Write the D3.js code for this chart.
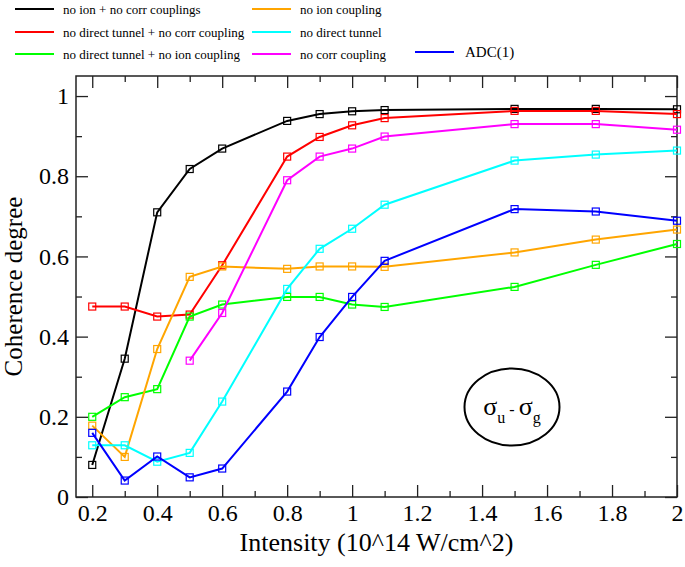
<!DOCTYPE html>
<html>
<head>
<meta charset="utf-8">
<script src="https://cdn.jsdelivr.net/npm/d3@7"></script>
<style>
  body { margin: 0; background: #fff; }
  svg text { font-family: "Liberation Serif", "DejaVu Serif", serif !important; }
</style>
</head>
<body>
<div id="chart"></div>
<script>
// intensities (10^14 W/cm^2)
const intensity = [0.2, 0.3, 0.4, 0.5, 0.6, 0.8, 0.9, 1.0, 1.1, 1.5, 1.75, 2.0];

const noIonNoCorr      = [0.08, 0.345, 0.71, 0.818, 0.869, 0.938, 0.955, 0.962, 0.965, 0.968, 0.968, 0.967];
const noTunnelNoCorr   = [0.475, 0.475, 0.45, 0.455, 0.578, 0.849, 0.898, 0.927, 0.945, 0.963, 0.963, 0.955];
const noTunnelNoIon    = [0.2, 0.249, 0.269, 0.45, 0.48, 0.499, 0.499, 0.48, 0.474, 0.524, 0.579, 0.631];
const noIon            = [0.178, 0.1, 0.369, 0.549, 0.575, 0.569, 0.575, 0.575, 0.574, 0.61, 0.642, 0.667];
const noTunnel         = [0.129, 0.129, 0.088, 0.11, 0.238, 0.519, 0.619, 0.669, 0.729, 0.839, 0.854, 0.864];
const noCorr           = [null, null, null, 0.34, 0.459, 0.79, 0.849, 0.869, 0.899, 0.93, 0.93, 0.916];
const adc1             = [0.16, 0.041, 0.101, 0.049, 0.071, 0.263, 0.399, 0.499, 0.589, 0.718, 0.712, 0.689];

const seriesNames = ["no ion + no corr couplings", "no direct tunnel + no corr coupling",
  "no direct tunnel + no ion coupling", "no ion coupling", "no direct tunnel",
  "no corr coupling", "ADC(1)"];
const seriesValues = [noIonNoCorr, noTunnelNoCorr, noTunnelNoIon, noIon, noTunnel, noCorr, adc1];
const colors = ["#000000", "#ff0000", "#00ff00", "#ffa500", "#00ffff", "#ff00ff", "#0000ff"];

const xTicks = [0.2, 0.4, 0.6, 0.8, 1.0, 1.2, 1.4, 1.6, 1.8, 2.0];
const xMinor = [0.3, 0.5, 0.7, 0.9, 1.1, 1.3, 1.5, 1.7, 1.9];
const yTicks = [0, 0.2, 0.4, 0.6, 0.8, 1.0];
const yMinor = [0.1, 0.3, 0.5, 0.7, 0.9];

const W = 685, H = 567;
const margin = {top: 76, right: 8, bottom: 70, left: 76};
const width = W - margin.left - margin.right;
const height = H - margin.top - margin.bottom;
const serif = '"Liberation Serif", "DejaVu Serif", serif';

const svg = d3.select("#chart").append("svg")
  .attr("width", W).attr("height", H)
  .style("font-family", serif);

const g = svg.append("g")
  .attr("transform", "translate(" + margin.left + "," + margin.top + ")");

const x = d3.scaleLinear().domain([0.15, 2]).range([0, width]);
const y = d3.scaleLinear().domain([0, 1.05]).range([height, 0]);

const fmt = d => d3.format("")(+d.toFixed(1));

// minor ticks first, then major with labels
const addAxis = (axis, tr, major, minor, labels) => {
  g.append("g").attr("transform", tr)
    .call(axis.tickValues(minor).tickSizeInner(-6).tickSizeOuter(0).tickFormat(""))
    .call(s => s.select(".domain").remove());
  const a = g.append("g").attr("transform", tr)
    .call(axis.tickValues(major).tickSizeInner(-12).tickSizeOuter(0)
      .tickPadding(labels ? 7 : 0).tickFormat(labels ? fmt : ""));
  a.attr("font-family", serif);
  a.select(".domain").remove();
  a.selectAll("text").style("font-size", "24px").style("font-family", serif).attr("fill", "#000");
};

addAxis(d3.axisBottom(x), "translate(0," + height + ")", xTicks, xMinor, true);
addAxis(d3.axisTop(x), "translate(0,0)", xTicks, xMinor, false);
addAxis(d3.axisLeft(y), "translate(0,0)", yTicks, yMinor, true);
addAxis(d3.axisRight(y), "translate(" + width + ",0)", yTicks, yMinor, false);
g.selectAll(".tick line").attr("stroke", "#222").attr("stroke-width", 1.3);

g.append("rect").attr("width", width).attr("height", height)
  .attr("fill", "none").attr("stroke", "#222").attr("stroke-width", 1.5);

// lines and square markers
const line = d3.line()
  .defined(d => d[1] !== null)
  .x(d => x(d[0])).y(d => y(d[1]));

seriesValues.forEach((vals, i) => {
  const pts = intensity.map((t, k) => [t, vals[k]]);
  g.append("path").datum(pts)
    .attr("d", line)
    .attr("fill", "none")
    .attr("stroke", colors[i])
    .attr("stroke-width", 2);
  g.append("g").selectAll("rect")
    .data(pts.filter(d => d[1] !== null))
    .enter().append("rect")
    .attr("x", d => x(d[0]) - 3.5)
    .attr("y", d => y(d[1]) - 3.5)
    .attr("width", 7).attr("height", 7)
    .attr("fill", "none")
    .attr("stroke", colors[i])
    .attr("stroke-width", 1.2);
});

// axis titles
svg.append("text")
  .attr("x", margin.left + width / 2).attr("y", 551)
  .attr("text-anchor", "middle").style("font-size", "26px")
  .text("Intensity (10^14 W/cm^2)");

svg.append("text")
  .attr("transform", "rotate(-90)")
  .attr("x", -(margin.top + height / 2)).attr("y", 22)
  .attr("text-anchor", "middle").style("font-size", "25px")
  .text("Coherence degree");

// legend
const legendPos = [[15, 9], [15, 32], [15, 54], [252, 9], [252, 32], [252, 54], [415, 52]];
legendPos.forEach((p, i) => {
  svg.append("line")
    .attr("x1", p[0]).attr("x2", p[0] + 39)
    .attr("y1", p[1]).attr("y2", p[1])
    .attr("stroke", colors[i]).attr("stroke-width", 2);
  svg.append("text")
    .attr("x", p[0] + (i === 6 ? 50 : 48)).attr("y", p[1] + (i === 6 ? 5 : 4.5))
    .style("font-size", i === 6 ? "15px" : "13px")
    .text(seriesNames[i]);
});

// sigma_u - sigma_g annotation
const ann = svg.append("g").attr("transform", "translate(512,407)");
ann.append("ellipse").attr("rx", 47.5).attr("ry", 38.5)
  .attr("fill", "none").attr("stroke", "#000").attr("stroke-width", 2);
const t = ann.append("text").attr("x", 0).attr("y", 8)
  .attr("text-anchor", "middle").style("font-size", "26px");
t.append("tspan").text("σ");
t.append("tspan").attr("dy", 8).style("font-size", "16px").text("u");
t.append("tspan").attr("dy", -8).style("font-size", "16px").text(" - ");
t.append("tspan").text("σ");
t.append("tspan").attr("dy", 8).style("font-size", "16px").text("g");
</script>
</body>
</html>
